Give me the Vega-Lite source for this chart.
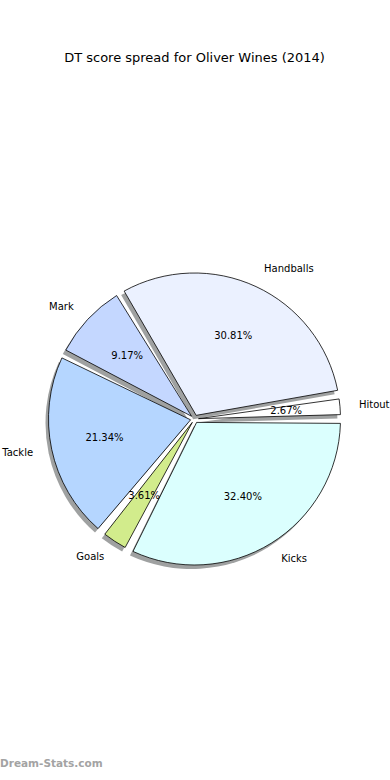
{
  "$schema": "https://vega.github.io/schema/vega-lite/v6.json",
  "width": 390,
  "height": 780,
  "autosize": {"type": "fit", "contains": "padding"},
  "padding": {"top": 52, "bottom": 10, "left": 0, "right": 0},
  "background": "white",
  "config": {"view": {"stroke": null}},
  "title": {"text": "DT score spread for Oliver Wines (2014)", "font": "DejaVu Sans", "fontSize": 13, "fontWeight": "normal", "color": "black", "offset": 10},
  "layer": [
    {
      "data": {"values": [
        {"label": "Hitout", "value": 2.67},
        {"label": "Handballs", "value": 30.81},
        {"label": "Mark", "value": 9.17},
        {"label": "Tackle", "value": 21.34},
        {"label": "Goals", "value": 3.61},
        {"label": "Kicks", "value": 32.40}
      ]},
      "transform": [
        {"window": [{"op": "sum", "field": "value", "as": "v1"}], "frame": [null, 0]},
        {"calculate": "datum.v1 - datum.value", "as": "v0"},
        {"calculate": "(datum.v0 + datum.v1) / 2", "as": "mid"},
        {"calculate": "format(datum.value, '.2f') + '%'", "as": "pct"}
      ],
      "layer": [
        {
          "mark": {"type": "arc", "innerRadius": 4, "outerRadius": 146, "padAngle": 0.06, "xOffset": -3, "yOffset": 4, "fill": "#9fa1a1", "stroke": null},
          "encoding": {
            "theta": {"field": "v0", "type": "quantitative", "stack": null, "scale": {"domain": [0, 100], "range": [1.5708, -4.7124]}},
            "theta2": {"field": "v1"}
          }
        },
        {
          "mark": {"type": "arc", "innerRadius": 4, "outerRadius": 146, "padAngle": 0.06, "stroke": "black", "strokeWidth": 0.8},
          "encoding": {
            "theta": {"field": "v0", "type": "quantitative", "stack": null},
            "theta2": {"field": "v1"},
            "color": {"field": "label", "type": "nominal", "legend": null,
              "scale": {"domain": ["Hitout", "Handballs", "Mark", "Tackle", "Goals", "Kicks"],
                        "range": ["#ffffff", "#ebf1ff", "#c4d7ff", "#b5d6ff", "#d2ec8c", "#dbfffe"]}}
          }
        },
        {
          "mark": {"type": "text", "radius": 92, "font": "DejaVu Sans", "fontSize": 10, "align": "center", "baseline": "middle", "color": "black"},
          "encoding": {
            "theta": {"field": "mid", "type": "quantitative", "stack": null},
            "text": {"field": "pct"}
          }
        },
        {
          "transform": [{"filter": "indexof(['Hitout', 'Handballs', 'Kicks'], datum.label) >= 0"}],
          "mark": {"type": "text", "radius": 165, "font": "DejaVu Sans", "fontSize": 10, "align": "left", "baseline": "middle", "color": "black"},
          "encoding": {
            "theta": {"field": "mid", "type": "quantitative", "stack": null},
            "text": {"field": "label"}
          }
        },
        {
          "transform": [{"filter": "indexof(['Mark', 'Tackle', 'Goals'], datum.label) >= 0"}],
          "mark": {"type": "text", "radius": 165, "font": "DejaVu Sans", "fontSize": 10, "align": "right", "baseline": "middle", "color": "black"},
          "encoding": {
            "theta": {"field": "mid", "type": "quantitative", "stack": null},
            "text": {"field": "label"}
          }
        }
      ]
    },
    {
      "data": {"values": [{"t": "Dream-Stats.com"}]},
      "mark": {"type": "text", "x": 0, "y": {"expr": "height + 4"}, "align": "left", "baseline": "alphabetic", "font": "DejaVu Sans", "fontSize": 10.5, "fontWeight": "bold", "color": "#a3a3a3"},
      "encoding": {"text": {"field": "t"}}
    }
  ]
}
